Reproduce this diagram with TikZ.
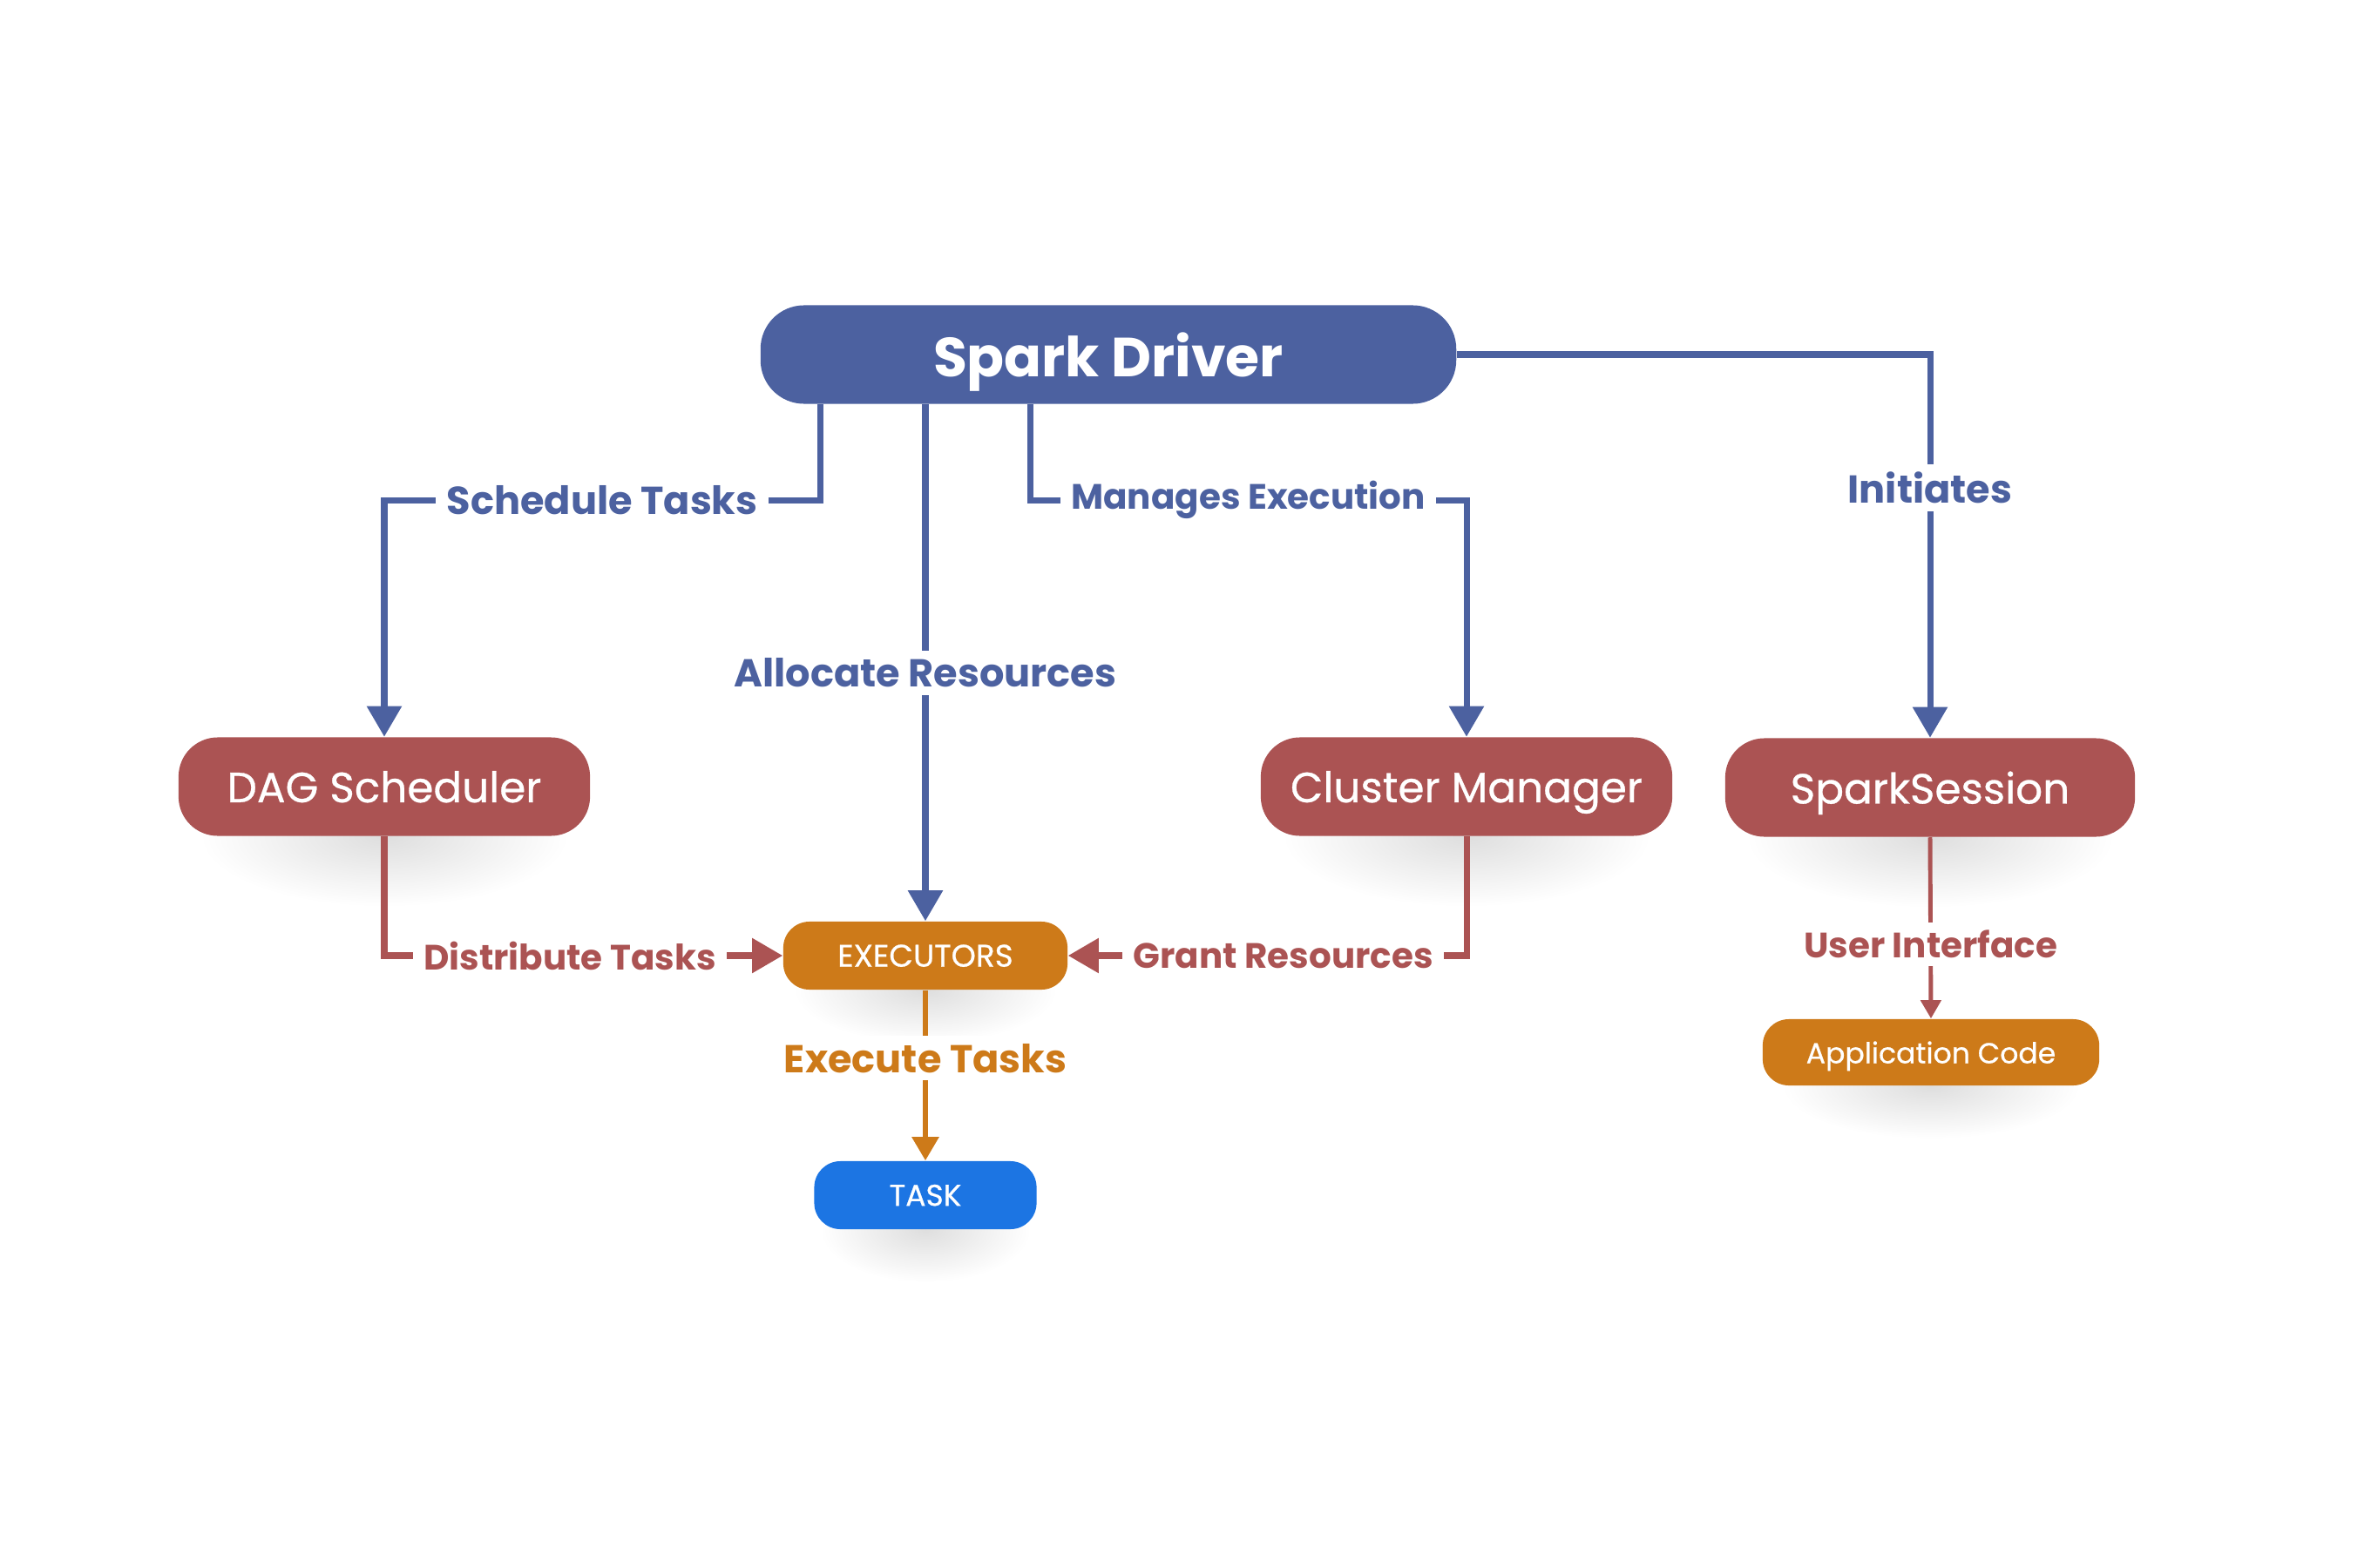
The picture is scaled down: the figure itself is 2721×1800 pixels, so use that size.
\documentclass[tikz,border=0pt]{standalone}
\usepackage{fontspec}
\setmainfont{Poppins}
\newfontfamily\boxfont{Poppins}[FakeBold=0.6]
\usetikzlibrary{arrows.meta,backgrounds,fadings}

\definecolor{driverblue}{HTML}{4C61A0}
\definecolor{compred}{HTML}{AB5353}
\definecolor{execorange}{HTML}{CD7A19}
\definecolor{taskblue}{HTML}{1C75E3}

\tikzfading[name=blobfade,inner color=transparent!0,outer color=transparent!100]

\begin{document}
\begin{tikzpicture}[x=0.01cm,y=-0.01cm,
    >={Triangle[length=10pt,width=11pt]},
    box/.style={rounded corners=0.45cm,text=white,text depth=0pt,minimum width=4.72cm,minimum height=1.13cm,font=\boxfont\fontsize{13.8}{15}\selectfont},
    small/.style={rounded corners=0.3cm,text=white,text depth=0pt,minimum height=0.78cm,font=\boxfont\fontsize{9.4}{11}\selectfont},
    lbl/.style={fill=white,inner xsep=3.5pt,inner ysep=2.5pt,font=\bfseries\fontsize{11.5}{13}\selectfont},
    big/.style={font=\bfseries\fontsize{12.7}{14}\selectfont},
    link/.style={->,line width=2pt},
    blob/.style={fill=black,opacity=0.13,path fading=blobfade}]

\useasboundingbox (0,0) rectangle (2721,1800);

\node [box,fill=driverblue,minimum width=7.98cm,rounded corners=0.5cm,font=\bfseries\fontsize{18}{22}\selectfont] (driver) at (1272,407) {Spark Driver};

\node [box,fill=compred] (dag) at (441,903) {DAG Scheduler};
\node [box,fill=compred] (cluster) at (1683,903) {Cluster Manager};
\node [box,fill=compred,minimum width=4.7cm] (session) at (2215,904) {SparkSession};

\node [small,fill=execorange,minimum width=3.26cm,font=\boxfont\fontsize{10.2}{12}\selectfont] (exec) at (1062,1097) {EXECUTORS};
\node [small,fill=taskblue,minimum width=2.55cm,font=\boxfont\fontsize{9.8}{12}\selectfont] (task) at (1062,1372) {TASK};
\node [small,fill=execorange,minimum width=3.86cm,minimum height=0.76cm] (app) at (2216,1208) {Application Code};

\coordinate (s1) at ([xshift=0.69cm]driver.south west);
\coordinate (m1) at ([xshift=3.1cm]driver.south west);

\draw [link,driverblue]
    (s1) -- ++(0,110) -| node [lbl,big,text=driverblue,pos=0.25] {Schedule Tasks} (dag.north);
\draw [link,driverblue]
    (driver.south -| exec.north) -- node [lbl,big,text=driverblue,pos=0.52] {Allocate Resources} (exec.north);
\draw [link,driverblue]
    (m1) -- ++(0,110) -| node [lbl,text=driverblue,pos=0.25] {Manages Execution} (cluster.north);
\draw [link,driverblue]
    (driver.east) -| node [lbl,big,text=driverblue,pos=0.674] {Initiates} (session.north);

\draw [link,compred]
    (dag.south) |- node [lbl,text=compred,pos=0.733] {Distribute Tasks} (exec.west);
\draw [link,compred]
    (cluster.south) |- node [lbl,text=compred,pos=0.73] {Grant Resources} (exec.east);

\draw [->,line width=1.7pt,execorange,>={Triangle[length=7.7pt,width=8.5pt]}]
    (exec.south) -- node [lbl,big,text=execorange,pos=0.4] {Execute Tasks} (task.north);

\draw [->,line width=1.4pt,compred,>={Triangle[length=6pt,width=6.5pt]}]
    (session.south) -- node [lbl,text=compred,pos=0.59] {User Interface} (app.north);

\begin{scope}[on background layer]
\fill [blob] (dag.south) ellipse (2.1cm and 0.8cm);
\fill [blob] (cluster.south) ellipse (2.1cm and 0.8cm);
\fill [blob] (session.south) ellipse (2.1cm and 0.8cm);
\fill [blob] (exec.south) ellipse (1.5cm and 0.6cm);
\fill [blob] (task.south) ellipse (1.2cm and 0.6cm);
\fill [blob] (app.south) ellipse (1.7cm and 0.6cm);
\end{scope}

\end{tikzpicture}
\end{document}
